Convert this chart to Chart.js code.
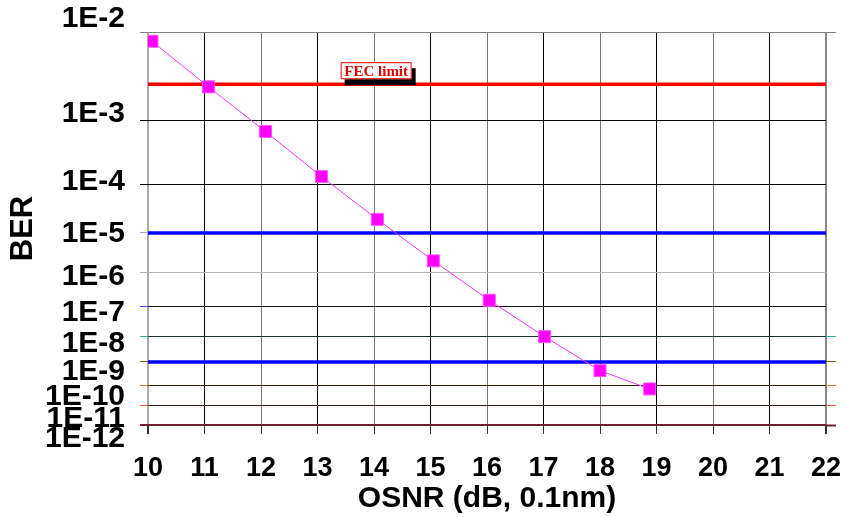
<!DOCTYPE html>
<html><head><meta charset="utf-8">
<script src="https://cdn.jsdelivr.net/npm/chart.js@4"></script>
<style>html,body{margin:0;padding:0;background:#fff}canvas{display:block}</style>
</head><body>
<canvas id="c" width="845" height="517"></canvas>
<script>
// ---- data ----
const osnr = [10.07, 11.07, 12.08, 13.07, 14.06, 15.05, 16.04, 17.02, 18.00, 18.88];
const ber = [8.2e-3, 2.7e-3, 7.1e-4, 1.36e-4, 2.0e-5, 2.1e-6, 1.6e-7, 9.5e-9, 4.3e-10, 6.6e-11];
const fecLimit = 2.9e-3;
const refLevels = [1e-5, 1e-9];
const xTickValues = [10, 11, 12, 13, 14, 15, 16, 17, 18, 19, 20, 21, 22];
const yTickExponents = [2, 3, 4, 5, 6, 7, 8, 9, 10, 11, 12];
const yTickLabels = yTickExponents.map(n => '1E-' + n);
const fecLabel = 'FEC limit';
const fecLabelX = 13.41;
// label axis range (labels in the original sit on a slightly different scale)
const labelAxisMin = 0.3257, labelAxisMax = 1.0532;

// ---- styles ----
const gridColorsY = ['#808080','#000000','#000000','#000000','#b8b8b0','#101010','#183030','#000000','#302000','#2e1a10','#702030'];
const gridWidthsY = [1,1,1,1,1,1,1,1,1,1,2];
const tickColorsLeft = ['#808080','#000000','#000000','#c090e0','#b0b0b0','#3050e0','#30b0b0','#806010','#d08020','#e06030','#702030'];
const tickColorsRight = ['#808080','rgba(0,0,0,0)','rgba(0,0,0,0)','rgba(0,0,0,0)','rgba(0,0,0,0)','rgba(0,0,0,0)','#30b0b0','#806010','#d08020','#e06030','#702030'];

// BER -> log10(-log10(BER)) axis transform
const ll = b => Math.log10(-Math.log10(b));
const yTickVals = yTickExponents.map(n => Math.log10(n));
const yMin = yTickVals[0], yMax = yTickVals[yTickVals.length - 1];
const setYTicks = s => { s.ticks = yTickVals.map(v => ({ value: v })); };

Chart.defaults.font.family = '"Liberation Sans", Arial, Helvetica, sans-serif';
Chart.defaults.color = '#000';

const fecPlugin = {
  id: 'fecLabel',
  afterDatasetsDraw(chart) {
    const ctx = chart.ctx;
    const x = chart.scales.x, y = chart.scales.y;
    const w = 71, h = 17;
    const bx = x.getPixelForValue(fecLabelX);
    const by = y.getPixelForValue(ll(fecLimit)) - 5 - h;
    ctx.save();
    ctx.fillStyle = '#000';
    ctx.fillRect(bx + 4, by + 6, w, h);
    ctx.fillStyle = '#fff';
    ctx.fillRect(bx, by, w, h);
    ctx.strokeStyle = '#ff0000';
    ctx.lineWidth = 1;
    ctx.strokeRect(bx + 0.5, by + 0.5, w - 1, h - 1);
    ctx.fillStyle = '#e00000';
    ctx.font = 'bold 15px "Liberation Serif", "Times New Roman", serif';
    ctx.textAlign = 'center';
    ctx.textBaseline = 'middle';
    ctx.fillText(fecLabel, bx + w / 2, by + h / 2 + 1);
    ctx.restore();
  }
};

const hline = (v, color) => ({
  data: [{ x: xTickValues[0], y: ll(v) }, { x: xTickValues[xTickValues.length - 1], y: ll(v) }],
  borderColor: color, borderWidth: 3.5, pointRadius: 0, fill: false
});

new Chart(document.getElementById('c'), {
  type: 'line',
  data: {
    datasets: [
      {
        data: osnr.map((v, i) => ({ x: v, y: ll(ber[i]) })),
        borderColor: '#ff33ff', borderWidth: 1,
        pointStyle: 'rect', pointRadius: 8.5,
        pointBackgroundColor: '#ff00ff', pointBorderColor: '#ff55ff', pointBorderWidth: 1,
        fill: false, tension: 0
      },
      hline(fecLimit, '#ff0000'),
      hline(refLevels[0], '#0000ff'),
      hline(refLevels[1], '#0000ff')
    ]
  },
  options: {
    responsive: false, animation: false, devicePixelRatio: 1,
    layout: { padding: { top: 32, left: 0, right: 0, bottom: 0 } },
    plugins: { legend: { display: false }, tooltip: { enabled: false } },
    scales: {
      x: {
        type: 'linear', min: 10, max: 22,
        afterBuildTicks: s => { s.ticks = xTickValues.map(v => ({ value: v })); },
        ticks: { font: { size: 27, weight: 'bold' }, color: '#000', padding: 18, maxRotation: 0, autoSkip: false },
        grid: {
          color: c => (c.index === 0 ? '#aaaaaa' : c.index === xTickValues.length - 1 ? '#888888' : (xTickValues[c.index] % 2 ? '#000000' : '#777777')),
          lineWidth: c => (c.index === 0 || c.index === xTickValues.length - 1 ? 2 : 1),
          tickLength: 9, tickColor: '#333333'
        },
        border: { display: false },
        title: { display: true, text: 'OSNR (dB, 0.1nm)', font: { size: 30, weight: 'bold' }, color: '#000', padding: { top: 0, bottom: 0 } },
        afterFit: s => { s.height = 92; s.paddingLeft = 0; s.paddingRight = 0; }
      },
      y: {
        type: 'linear', position: 'left', weight: 0,
        min: yMin, max: yMax, reverse: true,
        afterBuildTicks: setYTicks,
        ticks: { display: false },
        grid: {
          color: c => gridColorsY[c.index], lineWidth: c => gridWidthsY[c.index],
          tickLength: 8, tickColor: c => tickColorsLeft[c.index], tickWidth: c => gridWidthsY[c.index]
        },
        border: { display: false },
        afterFit: s => { s.width = 8; s.paddingTop = 0; s.paddingBottom = 0; }
      },
      yl: {
        type: 'linear', position: 'left', weight: 1,
        min: labelAxisMin, max: labelAxisMax, reverse: true,
        afterBuildTicks: setYTicks,
        ticks: { font: { size: 30, weight: 'bold' }, color: '#000', padding: 15, autoSkip: false,
                 callback: (v, i) => yTickLabels[i] },
        grid: { display: false, drawTicks: false },
        border: { display: false },
        title: { display: true, text: 'BER', font: { size: 31, weight: 'bold' }, color: '#000', padding: { top: 5, bottom: 0 } },
        afterFit: s => { s.width = 140; s.paddingTop = 0; s.paddingBottom = 0; }
      },
      yr: {
        type: 'linear', position: 'right',
        min: yMin, max: yMax, reverse: true,
        afterBuildTicks: setYTicks,
        ticks: { display: false },
        grid: { drawOnChartArea: false, tickLength: 10, tickColor: c => tickColorsRight[c.index], tickWidth: c => gridWidthsY[c.index] },
        border: { display: false },
        afterFit: s => { s.width = 19; s.paddingTop = 0; s.paddingBottom = 0; }
      }
    }
  },
  plugins: [fecPlugin]
});
</script>
</body></html>
